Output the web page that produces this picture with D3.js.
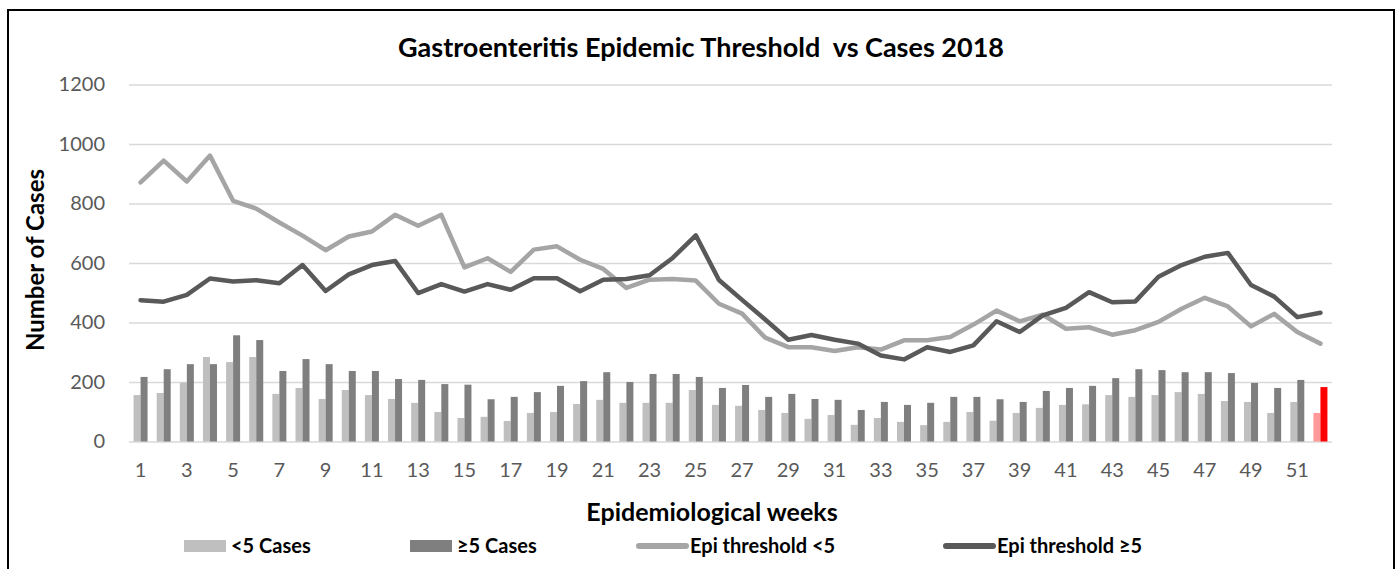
<!DOCTYPE html>
<html>
<head>
<meta charset="utf-8">
<script src="https://cdn.jsdelivr.net/npm/d3@7"></script>
<style>
  html, body { margin: 0; padding: 0; background: #fff; }
  svg { display: block; font-family: Lato, "Noto Sans", sans-serif; }
</style>
</head>
<body>
<svg id="chart" width="1400" height="569"></svg>
<script>
// Epidemiological weeks of 2018
const weeks = d3.range(1, 53);

// Weekly gastroenteritis cases, under 5 years and 5 years and over
const casesUnder5 = [156,163,198,284,267,284,160,180,143,173,
                     156,143,130,99,79,83,69,96,99,126,
                     140,130,130,130,173,123,120,106,96,76,
                     89,56,79,66,55,66,99,70,96,113,
                     123,125,156,150,156,166,160,136,133,96,
                     133,96];
const casesOver5 = [217,243,260,260,357,341,237,277,260,237,
                    237,210,207,193,191,142,150,166,187,203,
                    233,200,227,227,217,180,190,150,160,143,
                    140,106,133,123,130,150,150,142,133,170,
                    180,187,213,243,240,233,233,230,197,180,
                    207,183];

// Epidemic thresholds for each age group
const thresholdUnder5 = [871,944,874,961,809,783,736,692,643,689,
                         706,762,725,762,585,616,570,645,656,611,
                         580,516,544,546,541,463,430,349,317,317,
                         304,317,309,340,340,351,393,440,404,426,
                         379,384,359,374,402,446,483,454,387,429,
                         368,329];
const thresholdOver5 = [475,470,493,548,538,542,532,593,506,562,
                        593,607,499,529,504,529,510,549,549,505,
                        544,546,559,617,693,543,476,410,342,358,
                        342,329,289,276,317,301,323,404,368,424,
                        449,502,468,471,554,593,621,634,526,487,
                        418,433];

const yTicks = [0, 200, 400, 600, 800, 1000, 1200];
const xTickWeeks = weeks.filter(w => w % 2 === 1);
const seriesLabels = ["<5 Cases", "\u22655 Cases", "Epi threshold <5", "Epi threshold \u22655"];
const currentWeek = 52;

const colors = {
  under5: "#bfbfbf", over5: "#7f7f7f",
  under5Current: "#ff9999", over5Current: "#ff0000",
  thrUnder5: "#a5a5a5", thrOver5: "#595959",
  grid: "#d9d9d9", tick: "#595959"
};

const svg = d3.select("#chart");
const plot = { left: 129, right: 1332, top: 84.5, bottom: 441.5 };

// chart frame
svg.append("rect")
  .attr("x", 8).attr("y", 10)
  .attr("width", 1386).attr("height", 620)
  .attr("fill", "none").attr("stroke", "#000").attr("stroke-width", 2);

const x = d3.scaleBand().domain(weeks)
  .range([plot.left, plot.right])
  .paddingInner(0.395).paddingOuter(0.1975);
const xSub = d3.scaleBand().domain(["under5", "over5"]).range([0, x.bandwidth()]);
const y = d3.scaleLinear().domain([0, 1200]).range([plot.bottom, plot.top]);

// value axis with gridlines
const yAxis = svg.append("g")
  .attr("transform", `translate(${plot.left},0)`)
  .call(d3.axisLeft(y).tickValues(yTicks).tickFormat(d3.format("d"))
        .tickSize(-(plot.right - plot.left)).tickPadding(24));
yAxis.select(".domain").remove();
yAxis.selectAll(".tick line").attr("stroke", colors.grid).attr("stroke-width", 1.6);
yAxis.selectAll(".tick text").attr("fill", colors.tick)
  .style("font-size", "20px").style("font-family", "Lato, sans-serif");

// week axis
const xAxis = svg.append("g")
  .attr("transform", `translate(0,${plot.bottom})`)
  .call(d3.axisBottom(x).tickValues(xTickWeeks).tickSize(0).tickPadding(21));
xAxis.select(".domain").remove();
xAxis.selectAll(".tick text").attr("fill", colors.tick)
  .style("font-size", "20px").style("font-family", "Lato, sans-serif");

// grouped bars
const rows = weeks.map((w, i) => ({ week: w, under5: casesUnder5[i], over5: casesOver5[i] }));
const groups = svg.append("g").selectAll("g").data(rows).join("g")
  .attr("transform", d => `translate(${x(d.week)},0)`);
groups.selectAll("rect")
  .data(d => [
    { key: "under5", value: d.under5, current: d.week === currentWeek },
    { key: "over5", value: d.over5, current: d.week === currentWeek }
  ])
  .join("rect")
  .attr("x", d => xSub(d.key))
  .attr("width", xSub.bandwidth())
  .attr("y", d => y(d.value))
  .attr("height", d => y(0) - y(d.value))
  .attr("fill", d => d.current ? colors[d.key + "Current"] : colors[d.key]);

// threshold lines
const line = d3.line()
  .x((d, i) => x(weeks[i]) + x.bandwidth() / 2)
  .y(d => y(d));
[[thresholdUnder5, colors.thrUnder5], [thresholdOver5, colors.thrOver5]].forEach(([vals, c]) => {
  svg.append("path").datum(vals)
    .attr("d", line)
    .attr("fill", "none").attr("stroke", c)
    .attr("stroke-width", 4.5)
    .attr("stroke-linejoin", "round").attr("stroke-linecap", "round");
});

// titles
svg.append("text")
  .attr("x", 701).attr("y", 57)
  .attr("text-anchor", "middle")
  .style("white-space", "pre")
  .style("font-weight", "bold").style("font-size", "27px").attr("fill", "#000")
  .text("Gastroenteritis Epidemic Threshold  vs Cases 2018");

svg.append("text")
  .attr("transform", "translate(36,260) rotate(-90)")
  .attr("text-anchor", "middle").attr("dy", "0.35em")
  .style("font-weight", "bold").style("font-size", "24px").attr("fill", "#000")
  .text("Number of Cases");

svg.append("text")
  .attr("x", 712).attr("y", 521)
  .attr("text-anchor", "middle")
  .style("font-weight", "bold").style("font-size", "25px").attr("fill", "#000")
  .text("Epidemiological weeks");

// legend
const legendItems = [
  { label: seriesLabels[0], kind: "rect", color: colors.under5, x: 184 },
  { label: seriesLabels[1], kind: "rect", color: colors.over5, x: 410 },
  { label: seriesLabels[2], kind: "line", color: colors.thrUnder5, x: 636 },
  { label: seriesLabels[3], kind: "line", color: colors.thrOver5, x: 943 }
];
const legendY = 546;
const legend = svg.append("g").selectAll("g").data(legendItems).join("g")
  .attr("transform", d => `translate(${d.x},${legendY})`);
legend.filter(d => d.kind === "rect").append("rect")
  .attr("x", 0).attr("y", -6).attr("width", 42).attr("height", 12)
  .attr("fill", d => d.color);
legend.filter(d => d.kind === "line").append("line")
  .attr("x1", 3).attr("x2", 50).attr("y1", 0).attr("y2", 0)
  .attr("stroke", d => d.color).attr("stroke-width", 6).attr("stroke-linecap", "round");
legend.append("text")
  .attr("x", d => d.kind === "rect" ? 47 : 54)
  .attr("dy", "0.35em")
  .style("font-weight", "bold").style("font-size", "20px").attr("fill", "#000")
  .text(d => d.label);
</script>
</body>
</html>
